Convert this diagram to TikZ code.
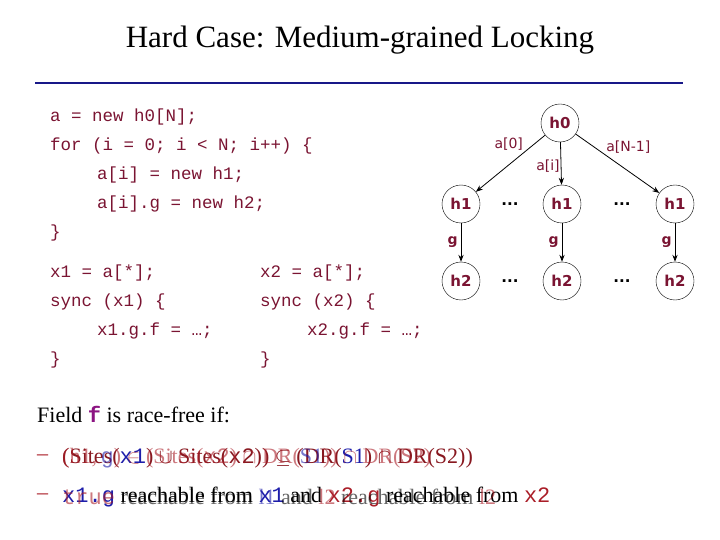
\documentclass[tikz,border=0pt]{standalone}
\usepackage{fontspec}
\setmainfont{Liberation Serif}
\setsansfont{DejaVu Sans}
\setmonofont{Liberation Mono}
\usepackage{amssymb}
\usetikzlibrary{arrows.meta}
\definecolor{mar}{RGB}{122,20,50}
\definecolor{dred}{RGB}{170,30,40}
\definecolor{dblue}{RGB}{30,30,170}
\definecolor{purp}{RGB}{140,20,130}
\newcommand{\tcd}[1]{{\ttfamily #1}}
\begin{document}
\begin{tikzpicture}[x=1pt,y=-1pt,
  code/.style={anchor=west,inner sep=0,font=\fontsize{17.5}{17.5}\ttfamily,text=mar},
  hn/.style={circle,draw,thin,minimum size=38pt,inner sep=0,font=\sffamily\bfseries\fontsize{15}{15}\selectfont,text=mar},
  lab/.style={inner sep=1pt,font=\sffamily\fontsize{14}{14}\selectfont,text=mar},
  glab/.style={inner sep=1pt,font=\sffamily\bfseries\fontsize{14}{14}\selectfont,text=mar},
  dots/.style={inner sep=0,font=\sffamily\bfseries\fontsize{15}{15}\selectfont},
  arr/.style={-{Stealth[length=7pt]},thick},
  bt/.style={anchor=west,inner sep=0,font=\fontsize{22}{22}\selectfont}]
\useasboundingbox (0,0) rectangle (720,540);
\node[font=\fontsize{31}{31}\selectfont] (title) at (360,40) {Hard Case: Medium-grained Locking};
\draw[line width=2.5pt,color=dblue!80!black] (35,83) -- (683,83);
\node[code] (c1) at (50,117) {a = new h0[N];};
\node[code] (c2) at (50,146) {for (i = 0; i < N; i++) \{};
\node[code] (c3) at (97,175) {a[i] = new h1;};
\node[code] (c4) at (97,204) {a[i].g = new h2;};
\node[code] (c5) at (50,233) {\}};
\node[code] (d1) at (50,273) {x1 = a[*];};
\node[code] (d2) at (50,302) {sync (x1) \{};
\node[code] (d3) at (97,331) {x1.g.f = …;};
\node[code] (d4) at (50,360) {\}};
\node[code] (e1) at (260,273) {x2 = a[*];};
\node[code] (e2) at (260,302) {sync (x2) \{};
\node[code] (e3) at (307,331) {x2.g.f = …;};
\node[code] (e4) at (260,360) {\}};
\node[hn] (h0) at (560,123) {h0};
\node[hn] (h1a) at (461,204) {h1};
\node[hn] (h1b) at (562,204) {h1};
\node[hn] (h1c) at (675,204) {h1};
\node[hn] (h2a) at (461,281) {h2};
\node[hn] (h2b) at (562,281) {h2};
\node[hn] (h2c) at (675,281) {h2};
\node[dots] (da) at (510,204) {...};
\node[dots] (db) at (622,204) {...};
\node[dots] (dc) at (510,281) {...};
\node[dots] (dd) at (622,281) {...};
\draw[arr] (h0) -- (h1a) node[lab,pos=0.3,above left] {a[0]};
\draw[arr] (h0) -- (h1b) node[lab,pos=0.55,left] {a[i]};
\draw[arr] (h0) -- (h1c) node[lab,pos=0.35,above right] {a[N-1]};
\draw[arr] (h1a) -- (h2a) node[glab,midway,left=2pt] {g};
\draw[arr] (h1b) -- (h2b) node[glab,midway,left=2pt] {g};
\draw[arr] (h1c) -- (h2c) node[glab,midway,left=2pt] {g};
\node[bt] (field) at (37,415) {Field \textcolor{purp}{\ttfamily\bfseries f} is race-free if:};
\node[bt,text=dred] (dash1) at (37,458) {–};
\node[bt,text=dred] (dash2) at (37,497) {–};
\node[bt,text=dred!80!black] (l1a) at (62,458) {(Sites(\textcolor{dblue}{\tcd{x1}}) $\cup$ Sites(\tcd{x2})) $\subseteq$ (DR(\textcolor{dblue}{S1}) $\cap$ DR(S2))};
\node[bt,text=dred,opacity=0.6] (l1b) at (62,458) {(h1,\,\textcolor{dblue}{\tcd{g}}) $\in$ (Sites(\tcd{x2}) $\cap$ DR(\textcolor{dblue}{S1})) $\cap$ DR(S2)};
\node[bt,text=black] (l2a) at (62,497) {\textcolor{dblue}{\tcd{x1.g}} reachable from \textcolor{dblue}{\tcd{x1}} and \textcolor{dred}{\tcd{x2.g}} reachable from \textcolor{dred}{\tcd{x2}}};
\node[bt,text=black,opacity=0.6] (l2b) at (62,497) {\textcolor{dred}{\tcd{true}} reachable from \textcolor{dblue}{l1} and \textcolor{dred}{l2} reachable from \textcolor{dred}{l2}};
\end{tikzpicture}
\end{document}
